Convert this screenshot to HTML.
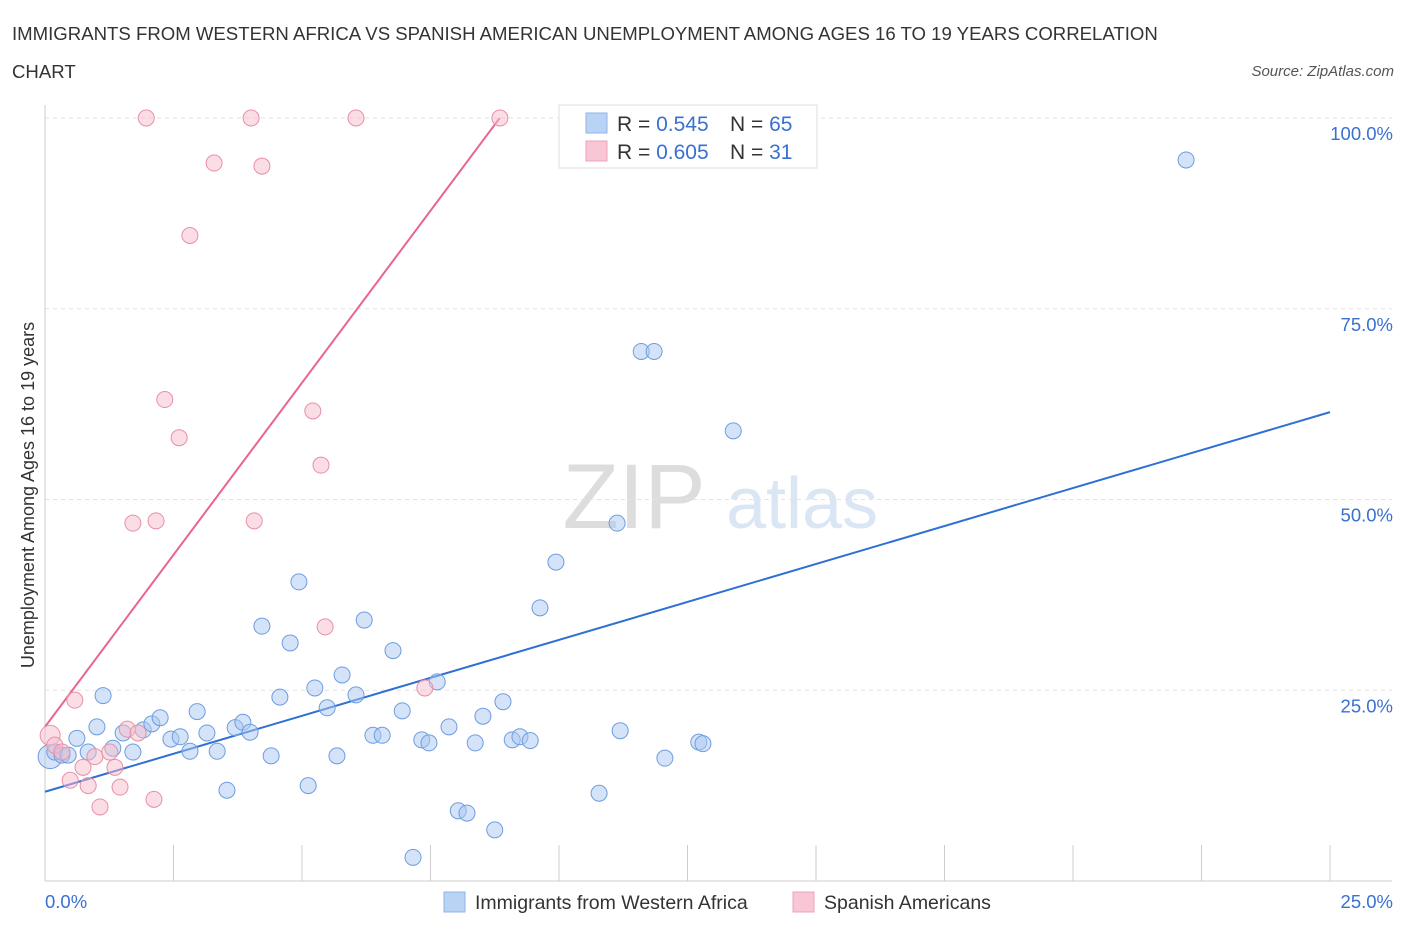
<!DOCTYPE html>
<html><head><meta charset="utf-8"><style>
body{margin:0;background:#fff;font-family:"Liberation Sans",sans-serif;}
svg text{font-family:"Liberation Sans",sans-serif;}
</style></head><body>
<svg id="chart" width="1406" height="930">
<text x="12" y="40" font-size="18.6" fill="#333">IMMIGRANTS FROM WESTERN AFRICA VS SPANISH AMERICAN UNEMPLOYMENT AMONG AGES 16 TO 19 YEARS CORRELATION</text>
<text x="12" y="78" font-size="18.6" fill="#333">CHART</text>
<text x="1394" y="76" font-size="15" fill="#555" font-style="italic" text-anchor="end">Source: ZipAtlas.com</text>
<text x="634" y="528" font-size="92" fill="#ddd" font-family="Liberation Serif" text-anchor="middle">ZIP</text>
<text x="802" y="528" font-size="72" fill="#dbe6f5" text-anchor="middle">atlas</text>
<text transform="translate(34,495) rotate(-90)" font-size="18" fill="#333" text-anchor="middle">Unemployment Among Ages 16 to 19 years</text>
<g id="grid"></g><g id="lines"></g><g id="pts"></g>
<g>
<rect x="559" y="105" width="258" height="63" fill="#fff" stroke="#ddd"/>
<rect x="586" y="113" width="21" height="20" fill="#b9d3f5" stroke="#8fb5e8"/>
<rect x="586" y="141" width="21" height="20" fill="#f8c6d4" stroke="#eca4b8"/>
<text x="617" y="131" font-size="21" fill="#333">R = <tspan fill="#3a70d0">0.545</tspan></text>
<text x="730" y="131" font-size="21" fill="#333">N = <tspan fill="#3a70d0">65</tspan></text>
<text x="617" y="159" font-size="21" fill="#333">R = <tspan fill="#3a70d0">0.605</tspan></text>
<text x="730" y="159" font-size="21" fill="#333">N = <tspan fill="#3a70d0"> 31</tspan></text>
</g>
<g>
<rect x="444" y="892" width="21" height="20" fill="#b9d3f5" stroke="#8fb5e8"/>
<text x="475" y="909" font-size="19.5" fill="#333">Immigrants from Western Africa</text>
<rect x="793" y="892" width="21" height="20" fill="#f8c6d4" stroke="#eca4b8"/>
<text x="824" y="909" font-size="19.5" fill="#333">Spanish Americans</text>
</g>
</svg>
<script>
const blueX=[0.10,0.19,0.33,0.45,0.62,0.84,1.01,1.13,1.32,1.52,1.71,1.91,2.08,2.24,2.45,2.63,2.82,2.96,3.15,3.35,3.54,3.70,3.85,3.99,4.22,4.40,4.57,4.77,4.94,5.12,5.25,5.49,5.68,5.78,6.05,6.21,6.38,6.56,6.77,6.95,7.16,7.33,7.47,7.63,7.86,8.04,8.21,8.37,8.52,8.75,8.91,9.09,9.24,9.44,9.63,9.94,10.78,11.13,11.19,11.60,11.85,12.06,12.72,12.80,13.39,22.20];
const blueY=[16.3,16.9,16.5,16.5,18.7,16.9,20.2,24.3,17.4,19.4,16.9,19.8,20.6,21.4,18.6,18.9,17.0,22.2,19.4,17.0,11.9,20.1,20.8,19.5,33.4,16.4,24.1,31.2,39.2,12.5,25.3,22.7,16.4,27.0,24.4,34.2,19.1,19.1,30.2,22.3,3.1,18.5,18.1,26.1,20.2,9.2,8.9,18.1,21.6,6.7,23.5,18.5,18.9,18.4,35.8,41.8,11.5,46.9,19.7,69.4,69.4,16.1,18.2,18.0,59.0,94.5];
const pinkX=[0.10,0.19,0.33,0.49,0.58,0.74,0.84,0.97,1.07,1.26,1.36,1.46,1.60,1.71,1.81,1.97,2.12,2.16,2.33,2.61,2.82,3.29,4.01,4.07,4.22,5.21,5.37,5.45,6.05,7.39,8.85];
const pinkY=[19.1,17.8,16.9,13.2,23.7,14.9,12.5,16.3,9.7,16.9,14.9,12.3,19.9,46.9,19.4,100,10.7,47.2,63.1,58.1,84.6,94.1,100,47.2,93.7,61.6,54.5,33.3,100,25.3,100];
const blueFit=[11.7,1.99]; // intercept, slope
const pinkFit=[20.2,9.02];
const yTicks=[25,50,75,100];
const xTickLabels=["0.0%","25.0%"];
const NS="http://www.w3.org/2000/svg";
const sx=v=>45+v*51.4, sy=v=>881-v*7.63;
function mk(tag,attrs,parent){const e=document.createElementNS(NS,tag);for(const k in attrs)e.setAttribute(k,attrs[k]);parent.appendChild(e);return e;}
const grid=document.getElementById('grid'),lines=document.getElementById('lines'),pts=document.getElementById('pts');
yTicks.forEach(t=>{const l=mk('line',{x1:45,x2:1392,y1:sy(t),y2:sy(t),stroke:'#e2e2e2','stroke-dasharray':'4,4'},grid);


const tx=mk('text',{x:1393,y:sy(t)+22,'font-size':18.5,fill:'#3a70d0','text-anchor':'end'},grid);tx.textContent=t.toFixed(1)+'%';

});
const xa=mk('line',{x1:45,x2:1392,y1:881,y2:881,stroke:'#ccc'},grid);


const ya=mk('line',{x1:45,x2:45,y1:105,y2:881,stroke:'#ccc'},grid);


for(let i=1;i<=10;i++){const t=mk('line',{x1:sx(i*2.5),x2:sx(i*2.5),y1:845,y2:881,stroke:'#ccc'},grid);

}
const x0=mk('text',{x:45,y:908,'font-size':18.5,fill:'#3a70d0'},grid);x0.textContent=xTickLabels[0];


const x1=mk('text',{x:1393,y:908,'font-size':18.5,fill:'#3a70d0','text-anchor':'end'},grid);x1.textContent=xTickLabels[1];


function dot(x,y,r,f,s){const c=mk('circle',{cx:sx(x),cy:sy(y),r:r,fill:f,'fill-opacity':0.5,stroke:s,'stroke-width':1},pts);return c;}
blueX.forEach((x,i)=>{const c=dot(x,blueY[i],i===0?12:8,'#a9c8f0','#6d9de0');

});
pinkX.forEach((x,i)=>{const c=dot(x,pinkY[i],i===0?10:8,'#f6bccc','#e890a8');

});
const bl=mk('line',{x1:sx(0),y1:sy(blueFit[0]),x2:sx(25),y2:sy(blueFit[0]+blueFit[1]*25),stroke:'#2f6fd6','stroke-width':2},lines);


const pEnd=(100-pinkFit[0])/pinkFit[1];
const pl=mk('line',{x1:sx(0),y1:sy(pinkFit[0]),x2:sx(pEnd),y2:sy(100),stroke:'#e8668e','stroke-width':2},lines);


</script>
</body></html>
